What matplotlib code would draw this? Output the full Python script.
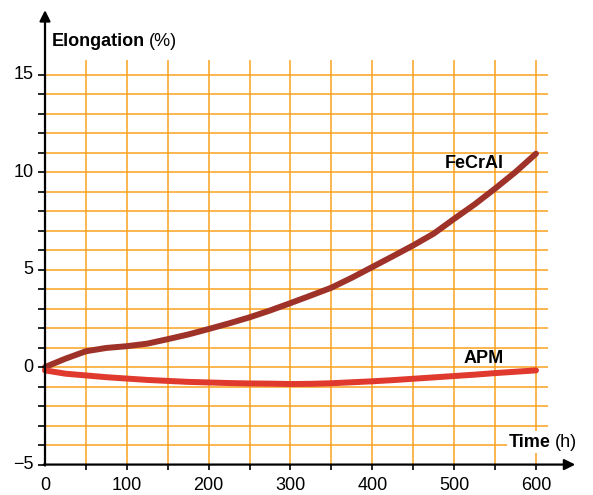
import numpy as np
import matplotlib.pyplot as plt

plt.rcParams['font.family'] = ['Liberation Sans', 'DejaVu Sans']

# data
time_h = [0, 25, 50, 75, 100, 125, 150, 175, 200, 225, 250, 275, 300,
          325, 350, 375, 400, 425, 450, 475, 500, 525, 550, 575, 600]
fecral = [0.0, 0.43, 0.81, 0.98, 1.07, 1.2, 1.43, 1.67, 1.95, 2.24, 2.55, 2.9, 3.28,
          3.67, 4.07, 4.58, 5.13, 5.68, 6.24, 6.84, 7.6, 8.34, 9.15, 10.0, 10.94]
apm = [-0.17, -0.34, -0.43, -0.52, -0.59, -0.66, -0.71, -0.76, -0.79, -0.82, -0.84, -0.85, -0.87,
       -0.86, -0.83, -0.78, -0.73, -0.67, -0.6, -0.53, -0.46, -0.39, -0.31, -0.24, -0.17]

x_major = [0, 100, 200, 300, 400, 500, 600]
y_major = [-5, 0, 5, 10, 15]
y_labels = ['\u22125', '0', '5', '10', '15']

grid_col = '#f9a21e'
fecral_col = '#9e3229'
apm_col = '#e03a2e'

fig = plt.figure(figsize=(5.93, 4.95), dpi=100)
ax = fig.add_axes([0, 0, 1, 1])
ax.set_xlim(-55, 669.7)
ax.set_ylim(-6.56, 18.82)

# grid
ax.hlines(np.arange(-4, 16), 0, 615, color=grid_col, lw=1.1, zorder=1)
ax.vlines(np.arange(50, 601, 50), -5, 15.75, color=grid_col, lw=1.1, zorder=1)

# axes as arrows
for s in ['top', 'right', 'left', 'bottom']:
    ax.spines[s].set_visible(False)
ax.annotate('', xy=(0, 18.3), xytext=(0, -5.05),
            arrowprops=dict(arrowstyle='-|>', color='black', lw=1.6,
                            mutation_scale=16, shrinkA=0, shrinkB=0), zorder=5)
ax.annotate('', xy=(648, -5), xytext=(-1.5, -5),
            arrowprops=dict(arrowstyle='-|>', color='black', lw=1.6,
                            mutation_scale=16, shrinkA=0, shrinkB=0), zorder=5)

# ticks
ax.hlines(np.arange(-5, 16), -9, 0, color='black', lw=1.2, zorder=5)
ax.vlines(np.arange(50, 601, 50), -5.3, -5, color='black', lw=1.2, zorder=5)
ax.set_xticks([])
ax.set_yticks([])
for v, lab in zip(y_major, y_labels):
    ax.text(-14, v, lab, ha='right', va='center', fontsize=13)
for v in x_major:
    ax.text(v, -6.05, str(v), ha='center', va='center', fontsize=13)

# curves
ax.plot(time_h, fecral, color=fecral_col, lw=4.3, solid_capstyle='round',
        solid_joinstyle='round', zorder=4)
ax.plot(time_h, apm, color=apm_col, lw=4.3, solid_capstyle='round',
        solid_joinstyle='round', zorder=4)

# labels
t1 = ax.text(8, 16.7, 'Elongation', fontsize=13, fontweight='semibold',
             ha='left', va='center')
ax.annotate('(%)', xy=(1, 0.5), xycoords=t1, xytext=(3, 0),
            textcoords='offset points', fontsize=13, ha='left', va='center')
ax.text(561, 10.45, 'FeCrAl', fontsize=13, fontweight='semibold',
        ha='right', va='center')
ax.text(561, 0.45, 'APM', fontsize=13, fontweight='semibold',
        ha='right', va='center')
t2 = ax.text(567, -3.85, 'Time', fontsize=13, fontweight='semibold',
             ha='left', va='center',
             bbox=dict(facecolor='white', edgecolor='none', pad=1.5), zorder=6)
ax.annotate('(h)', xy=(1, 0.5), xycoords=t2, xytext=(3, 0),
            textcoords='offset points', fontsize=13, ha='left', va='center',
            zorder=6)

fig.savefig('out.png', dpi=100)
